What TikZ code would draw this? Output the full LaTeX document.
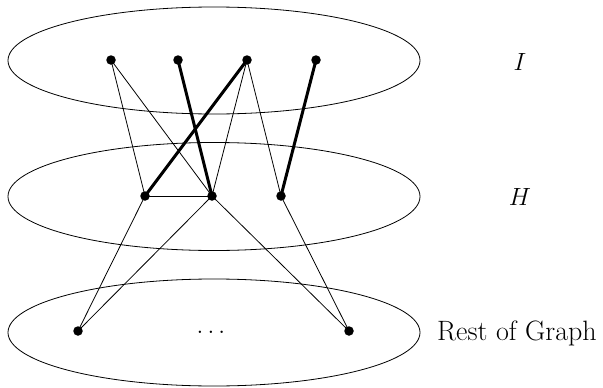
\documentclass[tikz,border=0pt]{standalone}
\begin{document}
\begin{tikzpicture}[x=1pt,y=-1pt,
  vtx/.style={circle,fill=black,inner sep=0pt,minimum size=9.5pt},
  region/.style={draw,line width=0.8pt},
  thinedge/.style={line width=0.8pt},
  thickedge/.style={line width=3pt},
  lbl/.style={font=\fontsize{28}{32}\selectfont}]
\useasboundingbox (0,0) rectangle (603,388);
% regions
\draw[region] (214,60.5) ellipse [x radius=206, y radius=53.5];
\draw[region] (214,196.5) ellipse [x radius=206, y radius=54];
\draw[region] (214,332.5) ellipse [x radius=206, y radius=53.5];
% vertices
\node[vtx] (t1) at (111,60) {};
\node[vtx] (t2) at (178,60) {};
\node[vtx] (t3) at (247,60) {};
\node[vtx] (t4) at (316,60) {};
\node[vtx] (m1) at (145,196) {};
\node[vtx] (m2) at (212,196) {};
\node[vtx] (m3) at (281,196) {};
\node[vtx] (b1) at (78,331) {};
\node[vtx] (b2) at (349,331) {};
\node[lbl,anchor=base,inner sep=0pt] (dots) at (211,333) {$\ldots$};
% edges
\draw[thinedge] (t1.center) -- (m1.center);
\draw[thinedge] (t1.center) -- (m2.center);
\draw[thickedge] (t2.center) -- (m2.center);
\draw[thickedge] (t3.center) -- (m1.center);
\draw[thinedge] (t3.center) -- (m2.center);
\draw[thinedge] (t3.center) -- (m3.center);
\draw[thickedge] (t4.center) -- (m3.center);
\draw[thinedge] (m1.center) -- (m2.center);
\draw[thinedge] (m1.center) -- (b1.center);
\draw[thinedge] (m2.center) -- (b1.center);
\draw[thinedge] (m2.center) -- (b2.center);
\draw[thinedge] (m3.center) -- (b2.center);
% labels
\node[lbl] (lI) at (520,62) {$I$};
\node[lbl] (lH) at (520,197) {$H$};
\node[lbl,anchor=west,inner sep=0pt] (lR) at (437,333) {Rest of Graph};
\end{tikzpicture}
\end{document}
